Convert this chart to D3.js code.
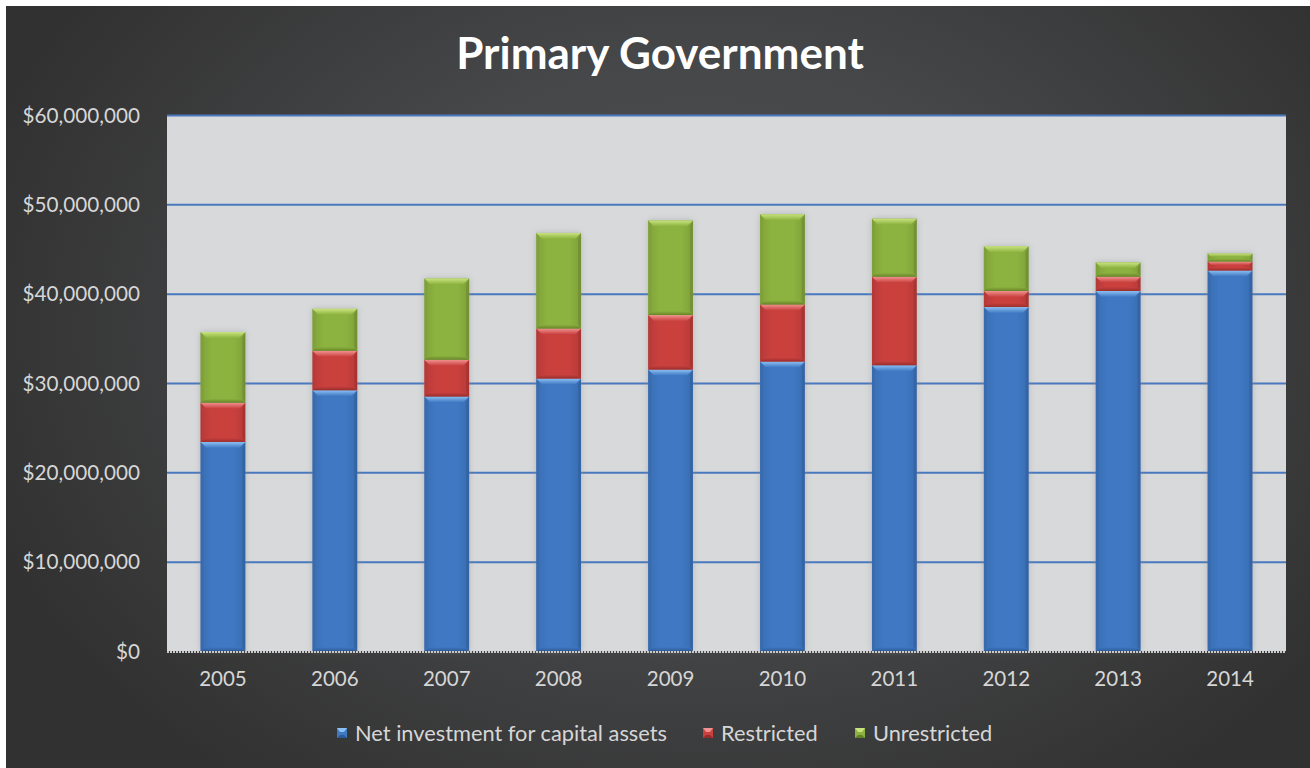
<!DOCTYPE html>
<html>
<head>
<meta charset="utf-8">
<script src="https://cdn.jsdelivr.net/npm/d3@7"></script>
<style>
  html, body { margin: 0; padding: 0; background: #ffffff; }
  svg { display: block; }
  text { font-family: Lato, "Noto Sans", sans-serif; }
</style>
</head>
<body>
<svg id="chart" width="1310" height="768"></svg>
<script>
// Net position of the primary government, fiscal years 2005-2014 (dollars)
const years = ["2005", "2006", "2007", "2008", "2009", "2010", "2011", "2012", "2013", "2014"];
const netInvestment = [23400000, 29200000, 28500000, 30500000, 31500000, 32400000, 32000000, 38500000, 40300000, 42600000];
const restricted    = [4400000, 4400000, 4100000, 5600000, 6100000, 6400000, 9900000, 1800000, 1600000, 1000000];
const unrestricted  = [7900000, 4700000, 9100000, 10700000, 10600000, 10100000, 6500000, 5000000, 1600000, 900000];
const seriesNames = ["Net investment for capital assets", "Restricted", "Unrestricted"];
const yTicks = [0, 10000000, 20000000, 30000000, 40000000, 50000000, 60000000];
const chartTitle = "Primary Government";

const W = 1310, H = 768;
const plot = { left: 167, right: 1286, top: 115, bottom: 651 };

// colour sets per series: body, light (top bevel), dark (bottom bevel), side
const palette = [
  { body: "#3f78c3", light: "#8cc0f2", dark: "#2b5a98", side: "#3669ad" },
  { body: "#c9403e", light: "#f09290", dark: "#962c2a", side: "#b43836" },
  { body: "#8cb23f", light: "#c8e37e", dark: "#647f27", side: "#7d9f36" }
];

const svg = d3.select("#chart");
const defs = svg.append("defs");

// dark backdrop with a soft lighter centre
const bg = defs.append("radialGradient").attr("id", "bgGrad")
  .attr("gradientUnits", "userSpaceOnUse")
  .attr("cx", 700).attr("cy", 330).attr("r", 760)
  .attr("gradientTransform", "translate(700,330) scale(1,0.75) rotate(-20) translate(-700,-330)");
bg.append("stop").attr("offset", "0%").attr("stop-color", "#4e4f51");
bg.append("stop").attr("offset", "45%").attr("stop-color", "#47484a");
bg.append("stop").attr("offset", "100%").attr("stop-color", "#313131");

svg.append("rect").attr("width", W).attr("height", H).attr("fill", "#ffffff");
svg.append("rect").attr("x", 6).attr("y", 6).attr("width", W - 6).attr("height", H - 6).attr("fill", "url(#bgGrad)");

palette.forEach((p, i) => {
  // horizontal shading across each bar body
  const g = defs.append("linearGradient").attr("id", "body" + i)
    .attr("x1", "0%").attr("x2", "100%").attr("y1", "0%").attr("y2", "0%");
  g.append("stop").attr("offset", "0%").attr("stop-color", d3.color(p.body).darker(0.25));
  g.append("stop").attr("offset", "25%").attr("stop-color", p.body);
  g.append("stop").attr("offset", "75%").attr("stop-color", p.body);
  g.append("stop").attr("offset", "100%").attr("stop-color", d3.color(p.body).darker(0.3));
  // top bevel fades from highlight into the body colour
  const t = defs.append("linearGradient").attr("id", "top" + i)
    .attr("x1", "0%").attr("x2", "0%").attr("y1", "0%").attr("y2", "100%");
  t.append("stop").attr("offset", "0%").attr("stop-color", p.light);
  t.append("stop").attr("offset", "100%").attr("stop-color", p.body);
  // bottom bevel darkens towards the edge
  const bt = defs.append("linearGradient").attr("id", "bot" + i)
    .attr("x1", "0%").attr("x2", "0%").attr("y1", "0%").attr("y2", "100%");
  bt.append("stop").attr("offset", "0%").attr("stop-color", p.body);
  bt.append("stop").attr("offset", "100%").attr("stop-color", p.dark);
});

const shadow = defs.append("filter").attr("id", "barShadow")
  .attr("x", "-40%").attr("y", "-10%").attr("width", "180%").attr("height", "120%");
shadow.append("feGaussianBlur").attr("in", "SourceAlpha").attr("stdDeviation", 3).attr("result", "blur");
shadow.append("feFlood").attr("flood-color", "#8a8a8a").attr("flood-opacity", 0.45);
shadow.append("feComposite").attr("in2", "blur").attr("operator", "in").attr("result", "sh");
const merge = shadow.append("feMerge");
merge.append("feMergeNode").attr("in", "sh");
merge.append("feMergeNode").attr("in", "SourceGraphic");

// scales
const x = d3.scaleBand().domain(years).range([plot.left, plot.right]).paddingInner(0.6).paddingOuter(0.3);
const y = d3.scaleLinear().domain([0, 60000000]).range([plot.bottom, plot.top]);

// plot area
svg.append("rect")
  .attr("x", plot.left).attr("y", plot.top)
  .attr("width", plot.right - plot.left).attr("height", plot.bottom - plot.top)
  .attr("fill", "#d8d9db");

// gridlines
const grid = svg.append("g").attr("transform", `translate(${plot.left},0)`)
  .call(d3.axisLeft(y).tickValues(yTicks).tickSize(-(plot.right - plot.left)).tickFormat(""));
grid.select(".domain").remove();
grid.selectAll(".tick line").attr("stroke", "#4a78bd").attr("stroke-width", 2)
  .filter(d => d === 0).remove();

// y axis labels
const yAxis = svg.append("g").attr("transform", "translate(140,0)")
  .call(d3.axisLeft(y).tickValues(yTicks).tickSize(0).tickPadding(0)
    .tickFormat(d => "$" + d3.format(",")(d)));
yAxis.select(".domain").remove();
yAxis.selectAll("text").attr("fill", "#d6d6d6").attr("font-size", 20.7)
  .attr("font-family", "Lato, sans-serif").attr("dy", "0.35em");

// stacked data
const rows = years.map((yr, i) => ({ year: yr, s0: netInvestment[i], s1: restricted[i], s2: unrestricted[i] }));
const stacked = d3.stack().keys(["s0", "s1", "s2"])(rows);

const bars = svg.append("g");
const stackGroups = bars.selectAll("g.stackcol").data(years).join("g")
  .attr("class", "stackcol").attr("filter", "url(#barShadow)");

stackGroups.each(function (yr, j) {
  const g = d3.select(this);
  stacked.forEach((layer, si) => {
    const d = layer[j];
    const x0 = x(yr), w = x.bandwidth();
    const yTop = y(d[1]), yBot = y(d[0]);
    const h = yBot - yTop;
    const p = palette[si];
    const b = Math.min(6, h / 2.5);
    const bb = Math.min(4, h / 3);
    const x1 = x0 + w;
    g.append("rect").attr("x", x0).attr("y", yTop).attr("width", w).attr("height", h)
      .attr("fill", `url(#body${si})`);
    // side bevels
    g.append("polygon").attr("points", [[x0, yTop], [x0 + b * 0.5, yTop + b], [x0 + b * 0.5, yBot - bb], [x0, yBot]].join(" "))
      .attr("fill", p.side).attr("opacity", 0.6);
    g.append("polygon").attr("points", [[x1, yTop], [x1 - b * 0.5, yTop + b], [x1 - b * 0.5, yBot - bb], [x1, yBot]].join(" "))
      .attr("fill", p.dark).attr("opacity", 0.45);
    // top highlight bevel
    g.append("polygon").attr("points", [[x0, yTop], [x1, yTop], [x1 - b, yTop + b], [x0 + b, yTop + b]].join(" "))
      .attr("fill", `url(#top${si})`);
    // bottom shaded bevel
    g.append("polygon").attr("points", [[x0, yBot], [x1, yBot], [x1 - bb, yBot - bb], [x0 + bb, yBot - bb]].join(" "))
      .attr("fill", `url(#bot${si})`).attr("opacity", 0.9);
  });
});

// category axis baseline (dotted)
svg.append("line").attr("x1", plot.left).attr("x2", plot.right)
  .attr("y1", plot.bottom + 1).attr("y2", plot.bottom + 1)
  .attr("stroke", "#c9c9c9").attr("stroke-width", 2).attr("stroke-dasharray", "2,1");

// x axis labels
const xAxis = svg.append("g").attr("transform", `translate(0,${plot.bottom})`)
  .call(d3.axisBottom(x).tickSize(0).tickPadding(0));
xAxis.select(".domain").remove();
xAxis.selectAll("text").attr("fill", "#d6d6d6").attr("font-size", 20.5)
  .attr("font-family", "Lato, sans-serif").attr("dy", "1.72em");

// title
svg.append("text").attr("x", 660).attr("y", 69).attr("text-anchor", "middle")
  .attr("fill", "#ffffff").attr("font-size", 44).attr("font-weight", "bold")
  .text(chartTitle);

// legend
const legendX = [337, 703, 855];
const legend = svg.append("g").selectAll("g").data(seriesNames).join("g")
  .attr("transform", (d, i) => `translate(${legendX[i]},733)`);
legend.append("rect").attr("x", 0).attr("y", -5).attr("width", 10).attr("height", 10)
  .attr("fill", (d, i) => palette[i].body);
legend.append("polygon").attr("points", "0,-5 10,-5 7,-1 3,-1")
  .attr("fill", (d, i) => palette[i].light);
legend.append("polygon").attr("points", "0,5 10,5 7,2 3,2")
  .attr("fill", (d, i) => palette[i].dark);
legend.append("text").attr("x", 18).attr("y", 0).attr("dy", "0.36em")
  .attr("fill", "#d6d6d6").attr("font-size", 21.8)
  .text(d => d);
</script>
</body>
</html>
